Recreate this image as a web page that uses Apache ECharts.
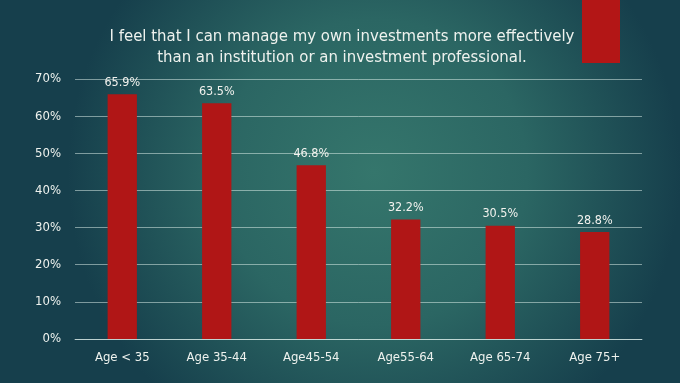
<!DOCTYPE html>
<html><head><meta charset="utf-8">
<script src="https://cdn.jsdelivr.net/npm/echarts@6/dist/echarts.min.js"></script>
<style>html,body{margin:0;padding:0;}#c{width:680px;height:383px;}</style>
</head><body><div id="c"></div>
<script>
const categories = ['Age < 35', 'Age 35-44', 'Age45-54', 'Age55-64', 'Age 65-74', 'Age 75+'];
const values = [65.9, 63.5, 46.8, 32.2, 30.5, 28.8];
const titleText = 'I feel that I can manage my own investments more effectively\nthan an institution or an investment professional.';
const FONT = '"DejaVu Sans Condensed", "DejaVu Sans", sans-serif';
const chart = echarts.init(document.getElementById('c'));
chart.setOption({
  backgroundColor: {
    type: 'radial', x: 0.55, y: 0.45, r: 0.8,
    colorStops: [{offset: 0, color: '#35766c'}, {offset: 0.5, color: '#2b6663'}, {offset: 1, color: '#163f4c'}]
  },
  title: {
    text: titleText, left: 337, top: 21, textAlign: 'center',
    textStyle: {color: '#eef2ee', fontFamily: FONT, fontSize: 16.6, fontWeight: 'normal', lineHeight: 21}
  },
  graphic: [{type: 'rect', shape: {x: 582, y: 0, width: 38, height: 63}, style: {fill: '#b31616'}}],
  grid: {left: 75, right: 38, top: 79, bottom: 44},
  xAxis: {
    type: 'category', data: categories,
    axisLine: {lineStyle: {color: 'rgba(230,245,240,0.6)', width: 1}},
    axisTick: {show: false},
    axisLabel: {color: '#eef2ee', fontFamily: FONT, fontSize: 13, margin: 12}
  },
  yAxis: {
    type: 'value', min: 0, max: 70, interval: 10,
    axisLine: {show: false}, axisTick: {show: false},
    axisLabel: {color: '#eef2ee', fontFamily: FONT, fontSize: 13, margin: 14, formatter: '{value}%'},
    splitLine: {lineStyle: {color: 'rgba(230,245,240,0.5)', width: 1}}
  },
  series: [{
    type: 'bar', data: values, barWidth: '31%',
    itemStyle: {color: '#b01616'},
    label: {show: true, position: 'top', distance: 5, color: '#f2f2ee', fontFamily: FONT, fontSize: 12.5, formatter: p => p.value.toFixed(1) + '%'}
  }]
});
</script></body></html>
